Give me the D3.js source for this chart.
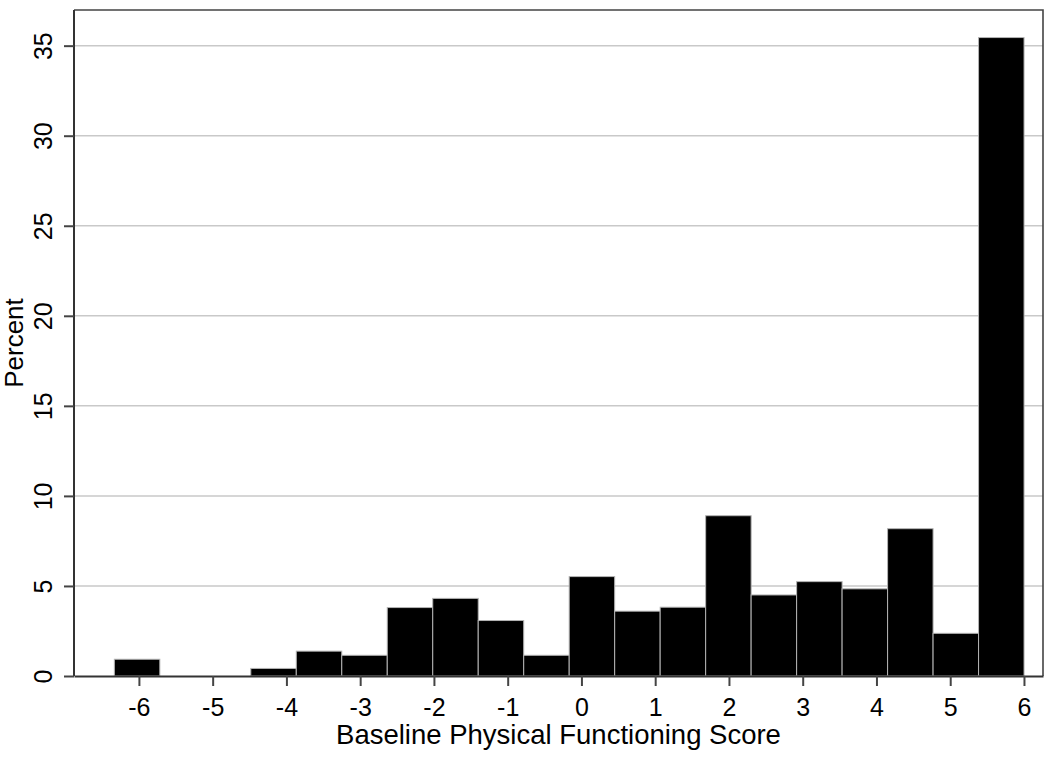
<!DOCTYPE html>
<html>
<head>
<meta charset="utf-8">
<script src="https://cdn.jsdelivr.net/npm/d3@7"></script>
<style>
  body { margin: 0; background: #fff; }
  svg text { font-family: "Liberation Sans", Arial, Helvetica, sans-serif; fill: #000; }
</style>
</head>
<body>
<script>
// histogram: 20 bins, first lower edge and bin width in score units
var binStart = -6.333,
    binWidth = 0.6167,
    percents = [0.93, 0, 0, 0.42, 1.38, 1.15, 3.8, 4.31, 3.08, 1.15,
                5.52, 3.6, 3.82, 8.9, 4.5, 5.24, 4.84, 8.18, 2.37, 35.45],
    xTicks = [-6, -5, -4, -3, -2, -1, 0, 1, 2, 3, 4, 5, 6],
    yTicks = [0, 5, 10, 15, 20, 25, 30, 35],
    xTitle = 'Baseline Physical Functioning Score',
    yTitle = 'Percent'

var bins = percents.map((p, i) => ({
    x0: binStart + i * binWidth,
    x1: binStart + (i + 1) * binWidth,
    value: p
}))

let margin = { top: 10, right: 7, bottom: 82, left: 74 },
    width = 1050 - margin.left - margin.right,
    height = 758 - margin.top - margin.bottom,
    svg = d3.select('body').append('svg')
        .attr('width', 1050)
        .attr('height', 758)

var g = svg.append('g')
    .attr('transform', 'translate(' + margin.left + ',' + margin.top + ')')

var xScale = d3.scaleLinear()
    .domain([-6.88, 6.258])
    .range([0, width])

var yScale = d3.scaleLinear()
    .domain([0, 36.98])
    .range([height, 0])

//gridlines
g.selectAll('.grid').data(yTicks.filter(d => d > 0)).enter()
    .append('line')
    .attr('x1', 0)
    .attr('x2', width)
    .attr('y1', d => yScale(d))
    .attr('y2', d => yScale(d))
    .attr('stroke', '#c9c9c9')
    .attr('stroke-width', 1.5)

//bars
g.selectAll('rect.bar').data(bins.filter(d => d.value > 0)).enter()
    .append('rect')
    .attr('class', 'bar')
    .attr('x', d => xScale(d.x0))
    .attr('y', d => yScale(d.value))
    .attr('width', d => xScale(d.x1) - xScale(d.x0))
    .attr('height', d => yScale(0) - yScale(d.value))
    .attr('fill', '#000')
    .attr('stroke', '#b4b4b4')
    .attr('stroke-width', 1)

//frame top / right
g.append('path')
    .attr('d', 'M0,0H' + width + 'V' + height)
    .attr('fill', 'none')
    .attr('stroke', '#444')
    .attr('stroke-width', 1.6)

//x axis
var xAxisG = g.append('g')
    .attr('transform', 'translate(0,' + height + ')')
    .call(d3.axisBottom(xScale).tickValues(xTicks).tickFormat(d => String(d))
        .tickSize(10).tickSizeOuter(0).tickPadding(12))
xAxisG.select('.domain').attr('stroke', '#333').attr('stroke-width', 2)
xAxisG.selectAll('.tick line').attr('stroke', '#444').attr('stroke-width', 2)
xAxisG.selectAll('.tick text').attr('font-size', 25).attr('fill', '#000')

//y axis
var yAxisG = g.append('g')
    .call(d3.axisLeft(yScale).tickValues(yTicks).tickSize(10).tickSizeOuter(0).tickPadding(0))
yAxisG.select('.domain').attr('stroke', '#333').attr('stroke-width', 2)
    .attr('d', 'M0,' + height + 'V0')
yAxisG.selectAll('.tick line').attr('stroke', '#444').attr('stroke-width', 2)
yAxisG.selectAll('.tick text')
    .attr('font-size', 25)
    .attr('fill', '#000')
    .attr('x', null).attr('dy', null)
    .attr('text-anchor', 'middle')
    .attr('transform', 'translate(-22,0) rotate(-90)')

//axis titles
svg.append('text')
    .attr('x', margin.left + width / 2)
    .attr('y', 744)
    .attr('text-anchor', 'middle')
    .attr('font-size', 27.5)
    .text(xTitle)

svg.append('text')
    .attr('transform', 'translate(23,' + (margin.top + height / 2) + ') rotate(-90)')
    .attr('text-anchor', 'middle')
    .attr('font-size', 26)
    .text(yTitle)
</script>
</body>
</html>
